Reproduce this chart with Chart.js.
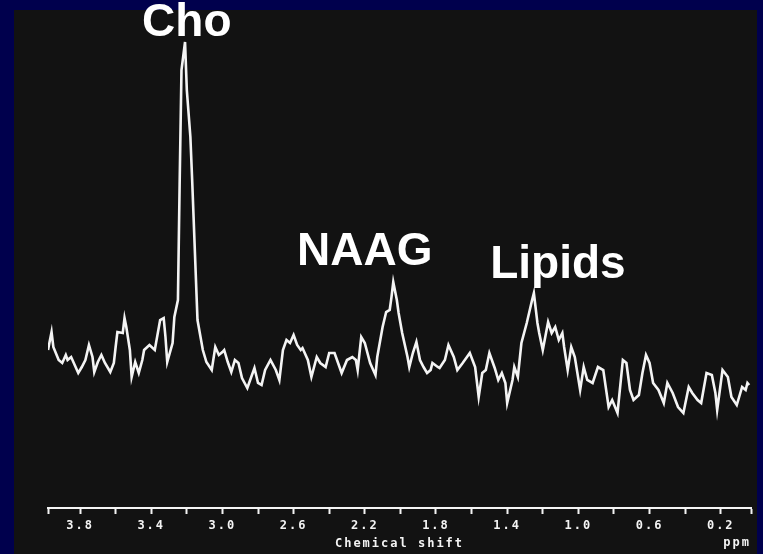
<!DOCTYPE html>
<html>
<head>
<meta charset="utf-8">
<script src="https://cdn.jsdelivr.net/npm/chart.js@4.4.0/dist/chart.umd.min.js"></script>
<style>
  html, body { margin: 0; padding: 0; background: #00004d; overflow: hidden; }
  #painel { position: absolute; left: 14px; top: 10px; width: 743px; height: 544px; background: #121212; }
  #caixa { position: absolute; left: 0; top: 0; width: 763px; height: 554px; }
</style>
</head>
<body>
<div id="painel"></div>
<div id="caixa"><canvas id="grafico" width="763" height="554"></canvas></div>
<script>
var deslocamento = [
  3.98, 3.96, 3.95, 3.92, 3.90, 3.88, 3.87, 3.85, 3.83, 3.81, 3.79, 3.77, 3.75, 3.73, 3.72, 3.70,
  3.68, 3.66, 3.63, 3.61, 3.60, 3.59, 3.56, 3.55, 3.54, 3.52, 3.51, 3.49, 3.47, 3.45, 3.44, 3.41,
  3.38, 3.35, 3.33, 3.32, 3.31, 3.28, 3.27, 3.25, 3.24, 3.23, 3.21, 3.20, 3.18, 3.17, 3.14, 3.11,
  3.09, 3.06, 3.04, 3.02, 3.00, 2.99, 2.97, 2.95, 2.93, 2.91, 2.89, 2.86, 2.85, 2.82, 2.80, 2.78,
  2.76, 2.73, 2.70, 2.68, 2.66, 2.64, 2.62, 2.60, 2.58, 2.56, 2.55, 2.52, 2.50, 2.47, 2.45, 2.42,
  2.40, 2.37, 2.33, 2.30, 2.27, 2.25, 2.24, 2.22, 2.20, 2.17, 2.14, 2.13, 2.10, 2.08, 2.06, 2.05,
  2.04, 2.02, 2.01, 1.99, 1.96, 1.95, 1.93, 1.91, 1.89, 1.87, 1.85, 1.83, 1.82, 1.79, 1.78, 1.75,
  1.73, 1.70, 1.68, 1.65, 1.61, 1.58, 1.56, 1.54, 1.52, 1.50, 1.47, 1.45, 1.43, 1.41, 1.40, 1.37,
  1.36, 1.34, 1.32, 1.29, 1.26, 1.25, 1.23, 1.22, 1.20, 1.17, 1.15, 1.13, 1.11, 1.09, 1.08, 1.06,
  1.04, 1.02, 0.99, 0.97, 0.95, 0.92, 0.89, 0.86, 0.83, 0.81, 0.78, 0.75, 0.73, 0.71, 0.69, 0.66,
  0.64, 0.62, 0.60, 0.58, 0.55, 0.52, 0.50, 0.47, 0.44, 0.41, 0.38, 0.36, 0.33, 0.31, 0.28, 0.25,
  0.23, 0.22, 0.19, 0.16, 0.14, 0.11, 0.08, 0.06, 0.05, 0.04
];
var intensidade = [
  7.0, 8.8, 7.3, 6.0, 5.7, 6.5, 6.0, 6.3, 5.5, 4.7, 5.3, 6.0, 7.5, 6.3, 4.8, 5.8,
  6.5, 5.7, 4.8, 5.7, 7.3, 8.8, 8.7, 10.2, 9.3, 7.0, 4.3, 5.8, 4.7, 6.0, 7.0, 7.5,
  7.0, 10.0, 10.2, 8.3, 5.8, 7.7, 10.3, 12.0, 24.0, 35.0, 37.8, 33.0, 28.3, 24.0, 10.0, 7.0,
  5.8, 5.0, 7.3, 6.5, 6.8, 7.0, 5.8, 4.8, 6.0, 5.7, 4.2, 3.2, 3.7, 5.2, 3.7, 3.5,
  5.0, 6.0, 5.0, 4.0, 7.0, 8.0, 7.7, 8.5, 7.5, 7.0, 7.2, 6.0, 4.3, 6.3, 5.7, 5.3,
  6.7, 6.7, 4.7, 6.0, 6.3, 6.0, 5.0, 8.3, 7.7, 5.7, 4.5, 6.3, 9.3, 10.8, 11.0, 12.3,
  13.8, 12.0, 10.7, 8.7, 6.3, 5.3, 6.7, 7.8, 6.0, 5.3, 4.7, 5.0, 5.7, 5.3, 5.2, 6.0,
  7.5, 6.3, 5.0, 5.7, 6.7, 5.3, 2.3, 4.7, 5.0, 6.7, 5.2, 4.0, 4.7, 3.7, 1.7, 4.0,
  5.3, 4.3, 7.7, 9.7, 12.0, 12.7, 9.7, 8.7, 7.0, 9.8, 8.7, 9.3, 8.0, 8.7, 7.3, 5.0,
  7.3, 6.3, 3.0, 5.3, 4.0, 3.7, 5.3, 5.0, 1.3, 2.0, 0.7, 6.0, 5.7, 3.0, 2.0, 2.5,
  4.7, 6.5, 5.7, 3.7, 3.0, 1.7, 3.7, 2.7, 1.3, 0.7, 3.3, 2.7, 2.0, 1.7, 4.7, 4.5,
  2.7, 1.0, 5.0, 4.3, 2.3, 1.5, 3.3, 3.0, 3.7, 3.5
];

// marcas do eixo (a cada 0.2 ppm, mais as pontas) e rotulos a cada 0.4
var marcasPpm = [3.98, 3.8, 3.6, 3.4, 3.2, 3.0, 2.8, 2.6, 2.4, 2.2, 2.0, 1.8, 1.6, 1.4, 1.2, 1.0, 0.8, 0.6, 0.4, 0.2, 0.03];
var rotulosPpm = ['3.8', '3.4', '3.0', '2.6', '2.2', '1.8', '1.4', '1.0', '0.6', '0.2'];

// nomes dos picos
var picoNomes = ['Cho', 'NAAG', 'Lipids'];
var picoPpm = [3.20, 2.20, 1.115];
var picoNivel = [38.4, 15.5, 14.2];

var branco = '#f4f4f4';
var fonteEixo = { family: '"DejaVu Sans Mono", monospace', weight: 'bold', size: 12 };

var pontos = deslocamento.map(function (x, i) { return { x: x, y: intensidade[i] }; });

// letras do eixo mais espacadas, como no registro original
var espacamento = {
  id: 'espacamento',
  beforeDraw: function (chart) { chart.ctx.letterSpacing = '2px'; },
  beforeDatasetsDraw: function (chart) { chart.ctx.letterSpacing = '0px'; }
};

var rotulos = {
  id: 'rotulos',
  afterDraw: function (chart) {
    var ctx = chart.ctx;
    var sx = chart.scales.x;
    var sy = chart.scales.y;
    ctx.save();
    ctx.letterSpacing = '0px';
    ctx.fillStyle = '#ffffff';
    ctx.font = 'bold 46px "Liberation Sans", Arial, sans-serif';
    ctx.textAlign = 'center';
    ctx.textBaseline = 'alphabetic';
    for (var i = 0; i < picoNomes.length; i++) {
      ctx.fillText(picoNomes[i], sx.getPixelForValue(picoPpm[i]), sy.getPixelForValue(picoNivel[i]));
    }
    ctx.fillStyle = branco;
    ctx.letterSpacing = '2px';
    ctx.font = 'bold 12px "DejaVu Sans Mono", monospace';
    ctx.textAlign = 'right';
    ctx.textBaseline = 'middle';
    ctx.fillText('ppm', chart.chartArea.right, 543);
    ctx.restore();
  }
};

var ctx = document.getElementById('grafico').getContext('2d');
var meuGrafico = new Chart(ctx, {
  type: 'line',
  data: {
    datasets: [{
      label: 'Espectro',
      data: pontos,
      borderColor: branco,
      borderWidth: 2.6,
      pointRadius: 0,
      fill: false,
      tension: 0
    }]
  },
  options: {
    responsive: false,
    animation: false,
    devicePixelRatio: 1,
    layout: { padding: { left: 48, right: 12, top: 20, bottom: 0 } },
    plugins: { legend: { display: false }, tooltip: { enabled: false } },
    scales: {
      x: {
        type: 'linear',
        reverse: true,
        min: 0.03,
        max: 3.98,
        afterBuildTicks: function (axis) {
          axis.ticks = marcasPpm.map(function (v) { return { value: v }; });
        },
        afterFit: function (axis) { axis.height = 46; },
        grid: { drawOnChartArea: false, drawTicks: true, tickLength: 6, tickWidth: 2, color: branco },
        border: { display: true, color: branco, width: 2 },
        ticks: {
          color: branco,
          padding: 5,
          autoSkip: false,
          maxRotation: 0,
          font: fonteEixo,
          callback: function (v) {
            var t = Number(v).toFixed(1);
            return rotulosPpm.indexOf(t) >= 0 && Math.abs(v - Number(t)) < 0.001 ? t : '';
          }
        },
        title: { display: true, text: 'Chemical shift', color: branco, font: fonteEixo, padding: { top: 0, bottom: 3 } }
      },
      y: { display: false, min: -8.8, max: 40 }
    }
  },
  plugins: [espacamento, rotulos]
});
</script>
</body>
</html>
